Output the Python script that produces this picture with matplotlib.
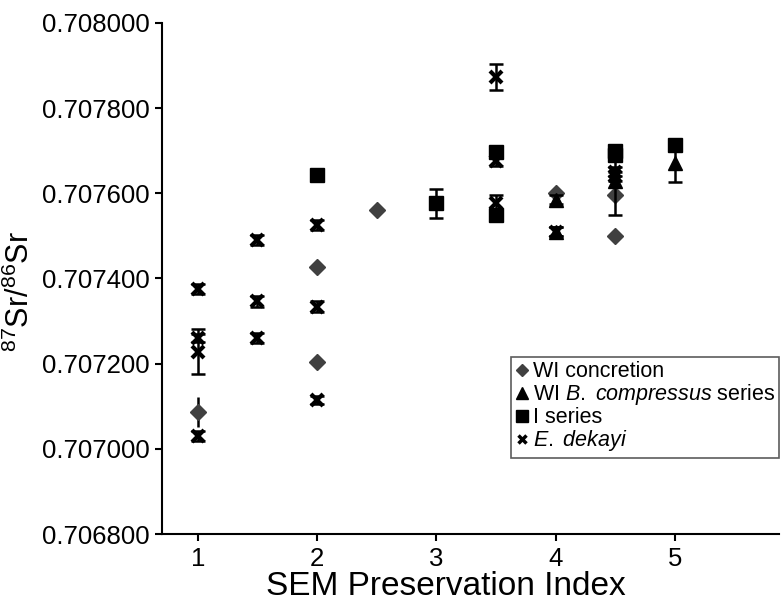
import matplotlib
matplotlib.use("Agg")
import matplotlib.pyplot as plt
from matplotlib.lines import Line2D

plt.rcParams["font.family"] = ["Liberation Sans", "DejaVu Sans"]
plt.rcParams["mathtext.fontset"] = "custom"
plt.rcParams["mathtext.rm"] = "Liberation Sans"
plt.rcParams["mathtext.it"] = "Liberation Sans:italic"

# WI concretion (diamonds)
wi_conc_x = [1, 2, 2, 2.5, 4, 4.5, 4.5]
wi_conc_y = [0.707087, 0.707428, 0.707205, 0.707560, 0.707600, 0.707597, 0.707500]
wi_conc_err = [0.000035, 0.000006, 0.000006, 0.000004, 0.000012, 0.000010, 0.000012]

# WI B. compressus series (triangles)
wi_bc_x = [4, 4, 4.5, 5]
wi_bc_y = [0.707585, 0.707510, 0.707628, 0.707671]
wi_bc_err = [0.000010, 0.000010, 0.000078, 0.000045]

# I series (squares)
i_x = [2, 3, 3.5, 3.5, 4.5, 4.5, 5]
i_y = [0.707643, 0.707577, 0.707698, 0.707550, 0.707700, 0.707690, 0.707714]
i_err = [0.000006, 0.000034, 0.000008, 0.000008, 0.000008, 0.000008, 0.000008]

# E. dekayi (crosses)
ed_x = [1, 1, 1, 1, 1.5, 1.5, 1.5, 2, 2, 2, 3.5, 3.5, 3.5, 4, 4.5, 4.5]
ed_y = [0.707376, 0.707260, 0.707228, 0.707030, 0.707490, 0.707346, 0.707260,
        0.707526, 0.707334, 0.707115, 0.707873, 0.707675, 0.707577, 0.707510,
        0.707651, 0.707640]
ed_err = [0.000012, 0.000010, 0.000053, 0.000012, 0.000012, 0.000014, 0.000012,
          0.000012, 0.000012, 0.000010, 0.000031, 0.000012, 0.000020, 0.000010,
          0.000010, 0.000010]

y_ticks = [0.7068, 0.7070, 0.7072, 0.7074, 0.7076, 0.7078, 0.7080]
x_ticks = [1, 2, 3, 4, 5]

gray = "#404040"
styles = {
    "diamond": dict(marker="D", ms=8.5, color=gray, mec=gray),
    "triangle": dict(marker="^", ms=10, color="black", mec="black"),
    "square": dict(marker="s", ms=10, color="black", mec="black"),
    "cross": dict(marker="x", ms=8, mew=3, color="black", mec="black"),
}

fig = plt.figure(figsize=(7.84, 6.03), dpi=100)
ax = fig.add_axes([0.2066, 0.1144, 0.787, 0.8475])

series = [
    (ed_x, ed_y, ed_err, "cross", 2, 5),
    (wi_conc_x, wi_conc_y, wi_conc_err, "diamond", 3, 0),
    (wi_bc_x, wi_bc_y, wi_bc_err, "triangle", 4, 5),
    (i_x, i_y, i_err, "square", 5, 5),
]
for xs, ys, es, key, z, cap in series:
    ax.errorbar(xs, ys, yerr=es, fmt="none", ecolor="black", elinewidth=1.8,
                capsize=cap, capthick=1.8, zorder=z)
    ax.plot(xs, ys, ls="none", zorder=z + 0.5, **styles[key])

ax.set_xlim(0.70, 5.87)
ax.set_ylim(0.7068, 0.7080)
ax.set_xticks(x_ticks)
ax.set_yticks(y_ticks)
ax.set_yticklabels([f"{v:.6f}" for v in y_ticks])
ax.tick_params(axis="both", labelsize=18.5, width=1.5, length=5,
               direction="out", pad=4)
for side in ["top", "right"]:
    ax.spines[side].set_visible(False)
for side in ["left", "bottom"]:
    ax.spines[side].set_linewidth(1.5)

ax.set_xlabel("SEM Preservation Index", fontsize=24)
ax.xaxis.set_label_coords((446 - 162) / (779 - 162), (534 - 571) / (534 - 23))
ax.set_ylabel(r"$^{87}$Sr/$^{86}$Sr", fontsize=22)
ax.yaxis.set_label_coords((36 - 162) / (779 - 162), (534 - 292) / (534 - 23))

handles = [
    Line2D([], [], ls="none", **dict(styles["diamond"], ms=6.5)),
    Line2D([], [], ls="none", **dict(styles["triangle"], ms=8.5)),
    Line2D([], [], ls="none", **dict(styles["square"], ms=8)),
    Line2D([], [], ls="none", **dict(styles["cross"], ms=6, mew=2.5)),
]
labels = ["WI concretion", r"WI $\mathit{B.}$ $\mathit{compressus}$ series",
          "I series", r"$\mathit{E.}$ $\mathit{dekayi}$"]
leg = ax.legend(handles, labels, loc="upper left",
                bbox_to_anchor=(511 / 784, 1 - 357 / 603),
                bbox_transform=fig.transFigure, fontsize=15.5, frameon=True,
                fancybox=False, handlelength=0.6, handletextpad=0.2,
                borderpad=0.2, labelspacing=0.0, borderaxespad=0)
leg.get_frame().set_edgecolor("#333333")
leg.get_frame().set_linewidth(1.2)

fig.savefig("out.png", dpi=100)
